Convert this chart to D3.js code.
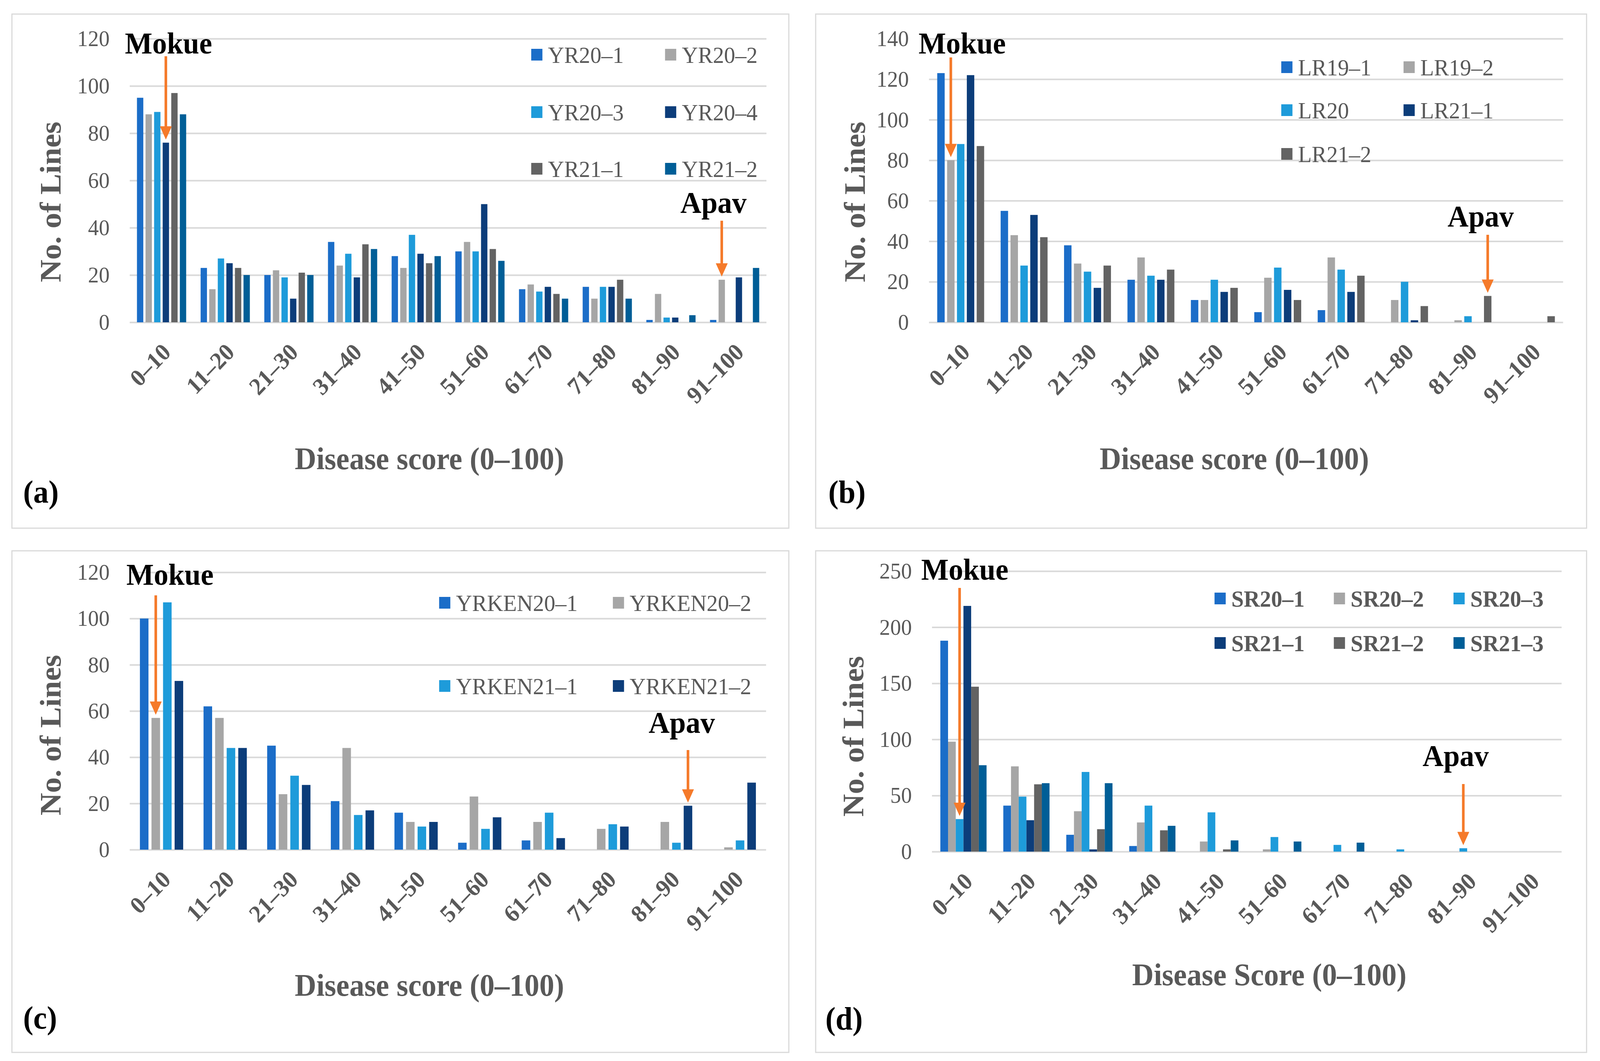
<!DOCTYPE html>
<html>
<head>
<meta charset="utf-8">
<script src="https://cdn.jsdelivr.net/npm/d3@7"></script>
<style>
  html, body { margin: 0; padding: 0; width: 100%; height: 100%; overflow: hidden; background: #fff; }
  #chart { width: 100vw; height: 100vh; }
  svg { display: block; }
  text { font-family: "Liberation Serif", "Times New Roman", serif; }
</style>
</head>
<body>
<div id="chart"></div>
<script>
// disease score bins shared by all four panels
var categories = ["0–10", "11–20", "21–30", "31–40", "41–50", "51–60", "61–70", "71–80", "81–90", "91–100"];

// (a) yellow rust
var seriesA = ["YR20–1", "YR20–2", "YR20–3", "YR20–4", "YR21–1", "YR21–2"];
var valuesA = [
  [95, 23, 20, 34, 28, 30, 14, 15, 1, 1],
  [88, 14, 22, 24, 23, 34, 16, 10, 12, 18],
  [89, 27, 19, 29, 37, 30, 13, 15, 2, 0],
  [76, 25, 10, 19, 29, 50, 15, 15, 2, 19],
  [97, 23, 21, 33, 25, 31, 12, 18, 0, 0],
  [88, 20, 20, 31, 28, 26, 10, 10, 3, 23]
];

// (b) leaf rust
var seriesB = ["LR19–1", "LR19–2", "LR20", "LR21–1", "LR21–2"];
var valuesB = [
  [123, 55, 38, 21, 11, 5, 6, 0, 0, 0],
  [80, 43, 29, 32, 11, 22, 32, 11, 1, 0],
  [88, 28, 25, 23, 21, 27, 26, 20, 3, 0],
  [122, 53, 17, 21, 15, 16, 15, 1, 0, 0],
  [87, 42, 28, 26, 17, 11, 23, 8, 13, 3]
];

// (c) yellow rust, Kenya
var seriesC = ["YRKEN20–1", "YRKEN20–2", "YRKEN21–1", "YRKEN21–2"];
var valuesC = [
  [100, 62, 45, 21, 16, 3, 4, 0, 0, 0],
  [57, 57, 24, 44, 12, 23, 12, 9, 12, 1],
  [107, 44, 32, 15, 10, 9, 16, 11, 3, 4],
  [73, 44, 28, 17, 12, 14, 5, 10, 19, 29]
];

// (d) stem rust
var seriesD = ["SR20–1", "SR20–2", "SR20–3", "SR21–1", "SR21–2", "SR21–3"];
var valuesD = [
  [188, 41, 15, 5, 0, 0, 0, 0, 0, 0],
  [98, 76, 36, 26, 9, 2, 0, 0, 0, 0],
  [29, 49, 71, 41, 35, 13, 6, 2, 3, 0],
  [219, 28, 2, 0, 0, 0, 0, 0, 0, 0],
  [147, 60, 20, 19, 2, 0, 0, 0, 0, 0],
  [77, 61, 61, 23, 10, 9, 8, 0, 0, 0]
];

var colorsA = ["#1b6dc8", "#a6a6a6", "#1e9bda", "#0c3d7a", "#636363", "#005e97"];
var colorsB = ["#1b6dc8", "#a6a6a6", "#1e9bda", "#0c3d7a", "#636363"];
var colorsC = ["#1b6dc8", "#a6a6a6", "#1e9bda", "#0c3d7a"];
var colorsD = ["#1b6dc8", "#a6a6a6", "#1e9bda", "#0c3d7a", "#636363", "#005e97"];

var svgWidth = 4292;
var svgHeight = 2716;
var orange = "#f57a2a";
var grey = "#595959";

// viewBox stretched to the window so the figure fills the shot
var svg = d3.select("#chart")
  .append("svg")
  .attr("width", "100%")
  .attr("height", "100%")
  .attr("viewBox", `0 0 ${svgWidth} ${svgHeight}`)
  .attr("preserveAspectRatio", "none");

svg.append("rect")
  .attr("width", svgWidth)
  .attr("height", svgHeight)
  .attr("fill", "#fff");

// layout of each panel, in page pixels
var panels = [
  {
    series: seriesA, values: valuesA, colors: colorsA,
    box: [32, 36, 2116, 1352], x: [348, 2056], y: [825, 99], yMax: 120, yStep: 20,
    p0: 0.227, p1: 0.26,
    legend: { cols: [1425, 1784], rows: [140, 287, 432], bold: false },
    yTitle: [134, 517], xTitle: [1152, 1201], xTitleText: "Disease score (0–100)",
    tag: [62, 1287], tagText: "(a)",
    mokue: { text: [335, 137], from: 144, cat: 0, s: 3 },
    apav: { text: [1825, 545], from: 565, cat: 9, s: 1 }
  },
  {
    series: seriesB, values: valuesB, colors: colorsB,
    box: [2188, 36, 4256, 1352], x: [2492, 4193], y: [825, 99], yMax: 140, yStep: 20,
    p0: 0.26, p1: 0.245,
    legend: { cols: [3437, 3765], rows: [172, 282, 394], bold: false },
    yTitle: [2292, 517], xTitle: [3311, 1201], xTitleText: "Disease score (0–100)",
    tag: [2222, 1287], tagText: "(b)",
    mokue: { text: [2464, 137], from: 147, cat: 0, s: 1 },
    apav: { text: [3883, 580], from: 601, cat: 8, s: 4 }
  },
  {
    series: seriesC, values: valuesC, colors: colorsC,
    box: [32, 1410, 2116, 2694], x: [348, 2055], y: [2175, 1465], yMax: 120, yStep: 20,
    p0: 0.32, p1: 0.26,
    legend: { cols: [1178, 1644], rows: [1543, 1756], bold: false },
    yTitle: [134, 1882], xTitle: [1152, 2549], xTitleText: "Disease score (0–100)",
    tag: [62, 2633], tagText: "(c)",
    mokue: { text: [339, 1497], from: 1524, cat: 0, s: 1 },
    apav: { text: [1740, 1876], from: 1920, cat: 8, s: 3 }
  },
  {
    series: seriesD, values: valuesD, colors: colorsD,
    box: [2188, 1410, 4256, 2694], x: [2500, 4189], y: [2180, 1462], yMax: 250, yStep: 50,
    p0: 0.266, p1: 0,
    legend: { cols: [3258, 3578, 3899], rows: [1532, 1646], bold: true },
    yTitle: [2288, 1885], xTitle: [3405, 2522], xTitleText: "Disease Score (0–100)",
    tag: [2214, 2635], tagText: "(d)",
    mokue: { text: [2471, 1484], from: 1505, cat: 0, s: 2 },
    apav: { text: [3816, 1961], from: 2007, cat: 8, s: 2 }
  }
];

function drawArrow(g, ax, from, tipY) {
  var headH = 34, headW = 32;
  g.append("line")
    .attr("x1", ax).attr("x2", ax)
    .attr("y1", from).attr("y2", tipY - headH + 4)
    .attr("stroke", orange)
    .attr("stroke-width", 7);
  g.append("path")
    .attr("d", `M${ax - headW / 2},${tipY - headH} L${ax + headW / 2},${tipY - headH} L${ax},${tipY} Z`)
    .attr("fill", orange);
}

function drawPanel(p) {
  var g = svg.append("g");

  // frame
  g.append("rect")
    .attr("x", p.box[0]).attr("y", p.box[1])
    .attr("width", p.box[2] - p.box[0]).attr("height", p.box[3] - p.box[1])
    .attr("fill", "none")
    .attr("stroke", "#d9d9d9")
    .attr("stroke-width", 3);

  var x0 = d3.scaleBand()
    .domain(categories)
    .range(p.x)
    .paddingInner(p.p0)
    .paddingOuter(p.p0 / 2);

  var x1 = d3.scaleBand()
    .domain(d3.range(p.series.length))
    .range([0, x0.bandwidth()])
    .paddingInner(p.p1)
    .paddingOuter(0);

  var y = d3.scaleLinear()
    .domain([0, p.yMax])
    .range(p.y);

  // y axis with gridlines
  var leftAxis = d3.axisLeft(y)
    .tickValues(d3.range(0, p.yMax + 1, p.yStep))
    .tickSize(-(p.x[1] - p.x[0]))
    .tickPadding(54);

  var yAxis = g.append("g")
    .attr("transform", `translate(${p.x[0]}, 0)`)
    .call(leftAxis);
  yAxis.select(".domain").remove();
  yAxis.selectAll("line")
    .attr("stroke", "#d9d9d9")
    .attr("stroke-width", 4);
  yAxis.selectAll("text")
    .attr("font-family", "Liberation Serif")
    .attr("font-size", 58)
    .attr("fill", grey);

  // category labels
  var bottomAxis = d3.axisBottom(x0).tickSize(0);
  var xAxis = g.append("g")
    .attr("transform", `translate(0, ${p.y[0]})`)
    .call(bottomAxis);
  xAxis.select(".domain").remove();
  xAxis.selectAll("text")
    .attr("y", 0)
    .attr("dy", 0)
    .attr("text-anchor", "end")
    .attr("transform", "translate(28, 80) rotate(-45)")
    .attr("font-family", "Liberation Serif")
    .attr("font-size", 62)
    .attr("font-weight", "bold")
    .attr("fill", grey);

  // bars
  p.series.forEach(function(name, s) {
    g.append("g")
      .selectAll("rect")
      .data(p.values[s])
      .enter()
      .append("rect")
      .attr("x", (d, i) => x0(categories[i]) + x1(s))
      .attr("y", d => y(d))
      .attr("width", x1.bandwidth())
      .attr("height", d => y(0) - y(d))
      .attr("fill", p.colors[s]);
  });

  // legend
  var ncols = p.legend.cols.length;
  p.series.forEach(function(name, s) {
    var lx = p.legend.cols[s % ncols];
    var ly = p.legend.rows[Math.floor(s / ncols)];
    g.append("rect")
      .attr("x", lx).attr("y", ly - 15)
      .attr("width", 30).attr("height", 30)
      .attr("fill", p.colors[s]);
    g.append("text")
      .attr("x", lx + 45).attr("y", ly)
      .attr("dy", "0.35em")
      .attr("font-size", 60)
      .attr("font-weight", p.legend.bold ? "bold" : "normal")
      .attr("fill", grey)
      .text(name);
  });

  // axis titles
  g.append("text")
    .attr("transform", `translate(${p.yTitle[0]}, ${p.yTitle[1]}) rotate(-90)`)
    .attr("text-anchor", "middle")
    .attr("dy", "0.35em")
    .attr("font-size", 80)
    .attr("font-weight", "bold")
    .attr("fill", grey)
    .text("No. of Lines");

  g.append("text")
    .attr("x", p.xTitle[0]).attr("y", p.xTitle[1])
    .attr("text-anchor", "middle")
    .attr("font-size", 80)
    .attr("font-weight", "bold")
    .attr("fill", grey)
    .text(p.xTitleText);

  g.append("text")
    .attr("x", p.tag[0]).attr("y", p.tag[1])
    .attr("font-size", 82)
    .attr("font-weight", "bold")
    .attr("fill", "#000")
    .text(p.tagText);

  // Mokue / Apav annotations
  [["Mokue", p.mokue], ["Apav", p.apav]].forEach(function(a) {
    var ann = a[1];
    g.append("text")
      .attr("x", ann.text[0]).attr("y", ann.text[1])
      .attr("font-size", 78)
      .attr("font-weight", "bold")
      .attr("fill", "#000")
      .text(a[0]);
    var ax = x0(categories[ann.cat]) + x1(ann.s) + x1.bandwidth() / 2;
    var tipY = y(p.values[ann.s][ann.cat]) - 8;
    drawArrow(g, ax, ann.from, tipY);
  });
}

panels.forEach(drawPanel);
</script>
</body>
</html>
